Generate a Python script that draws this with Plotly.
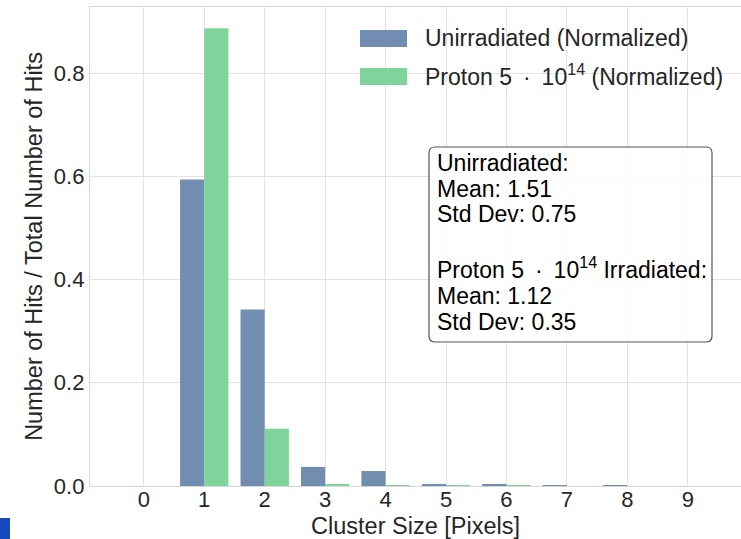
import plotly.graph_objects as go

cluster_sizes = [0, 1, 2, 3, 4, 5, 6, 7, 8, 9]
unirradiated = [0.0, 0.594, 0.342, 0.037, 0.029, 0.004, 0.002, 0.0015, 0.0012, 0.0]
proton = [0.0, 0.887, 0.111, 0.003, 0.0012, 0.0008, 0.0002, 0.0, 0.0, 0.0]
tick_vals_y = [0.0, 0.2, 0.4, 0.6, 0.8]
PROTON = "Proton 5\u2009 · \u200910<sup>14</sup>"
legend_labels = ["Unirradiated (Normalized)", PROTON + " (Normalized)"]
stats_lines = ["Unirradiated:", "Mean: 1.51", "Std Dev: 0.75",
               PROTON + " Irradiated:", "Mean: 1.12", "Std Dev: 0.35"]

BLUE = "rgb(113,142,176)"
GREEN = "rgb(126,212,154)"
FONT = "Liberation Sans, Arial, sans-serif"
W, H = 741, 539
L, R, T, B = 90, 0, 7, 53
PW, PH = W - L - R, H - T - B


def px(x):
    return (x - L) / PW


def py(y):
    return (H - B - y) / PH


fig = go.Figure()
fig.add_trace(go.Bar(x=cluster_sizes, y=unirradiated, marker=dict(color=BLUE, line=dict(width=0)),
                     name="Unirradiated (Normalized)", showlegend=False))
fig.add_trace(go.Bar(x=cluster_sizes, y=proton, marker=dict(color=GREEN, line=dict(width=0)),
                     name="Proton 5·10^14 (Normalized)", showlegend=False))

shapes = []
annotations = []
# legend (manual, wide patches)
for (y0, y1, col, txt) in [(30, 47, BLUE, legend_labels[0]), (68, 85, GREEN, legend_labels[1])]:
    shapes.append(dict(type="rect", xref="paper", yref="paper", x0=px(360), x1=px(407),
                       y0=py(y1), y1=py(y0), fillcolor=col, line=dict(width=0), layer="above"))
    annotations.append(dict(xref="paper", yref="paper", x=px(423), y=py((y0 + y1) / 2 - 1), text=txt,
                            xanchor="left", yanchor="middle", showarrow=False,
                            font=dict(family=FONT, size=23, color="#262626")))

# stats box with rounded corners
bx0, bx1, by0, by1, r = 429, 712, 147, 342, 6
rx, ry = r / PW, r / PH
X0, X1, Y0, Y1 = px(bx0), px(bx1), py(by1), py(by0)
path = (f"M {X0+rx},{Y0} L {X1-rx},{Y0} Q {X1},{Y0} {X1},{Y0+ry} L {X1},{Y1-ry} Q {X1},{Y1} {X1-rx},{Y1} "
        f"L {X0+rx},{Y1} Q {X0},{Y1} {X0},{Y1-ry} L {X0},{Y0+ry} Q {X0},{Y0} {X0+rx},{Y0} Z")
shapes.append(dict(type="path", xref="paper", yref="paper", path=path, fillcolor="rgba(255,255,255,0.85)",
                   line=dict(color="#555555", width=1.2), layer="above"))
line_y = [163, 189, 214, 268, 296, 322]
for txt, ly in zip(stats_lines, line_y):
    annotations.append(dict(xref="paper", yref="paper", x=px(435), y=py(ly), text=txt, align="left",
                            xanchor="left", yanchor="middle", showarrow=False,
                            font=dict(family=FONT, size=23, color="#000000")))

# small blue artifact at bottom-left corner
shapes.append(dict(type="rect", xref="paper", yref="paper", x0=px(0), x1=px(10), y0=py(539), y1=py(518),
                   fillcolor="rgb(22,72,190)", line=dict(width=0), layer="above"))

fig.update_layout(
    width=W, height=H,
    margin=dict(l=L, r=R, t=T, b=B),
    plot_bgcolor="white", paper_bgcolor="white",
    barmode="group", bargap=0.2, bargroupgap=0.0,
    font=dict(family=FONT, size=22, color="#262626"),
    shapes=shapes, annotations=annotations,
    showlegend=False,
    xaxis=dict(range=[-0.89, 9.88], tickmode="array", tickvals=cluster_sizes,
               ticktext=[str(c) for c in cluster_sizes], tickfont=dict(size=22),
               showgrid=True, gridcolor="#e3e3e3", gridwidth=1,
               showline=True, linecolor="#d6d6d6", linewidth=1.3, mirror=True,
               ticks="", ticklen=0, ticklabelstandoff=-7, zeroline=False, automargin=False,
               title=dict(text="Cluster Size [Pixels]", font=dict(size=23.5), standoff=10)),
    yaxis=dict(range=[0, 0.928], tickmode="array", tickvals=tick_vals_y,
               ticktext=[f"{v:.1f}" for v in tick_vals_y], tickfont=dict(size=22),
               showgrid=True, gridcolor="#e3e3e3", gridwidth=1,
               showline=True, linecolor="#d6d6d6", linewidth=1.3,
               ticks="", ticklen=0, ticklabelstandoff=0, zeroline=False, automargin=False,
               title=dict(text="Number of Hits / Total Number of Hits", font=dict(size=23.5), standoff=4)),
)

fig.write_html("out.html")
